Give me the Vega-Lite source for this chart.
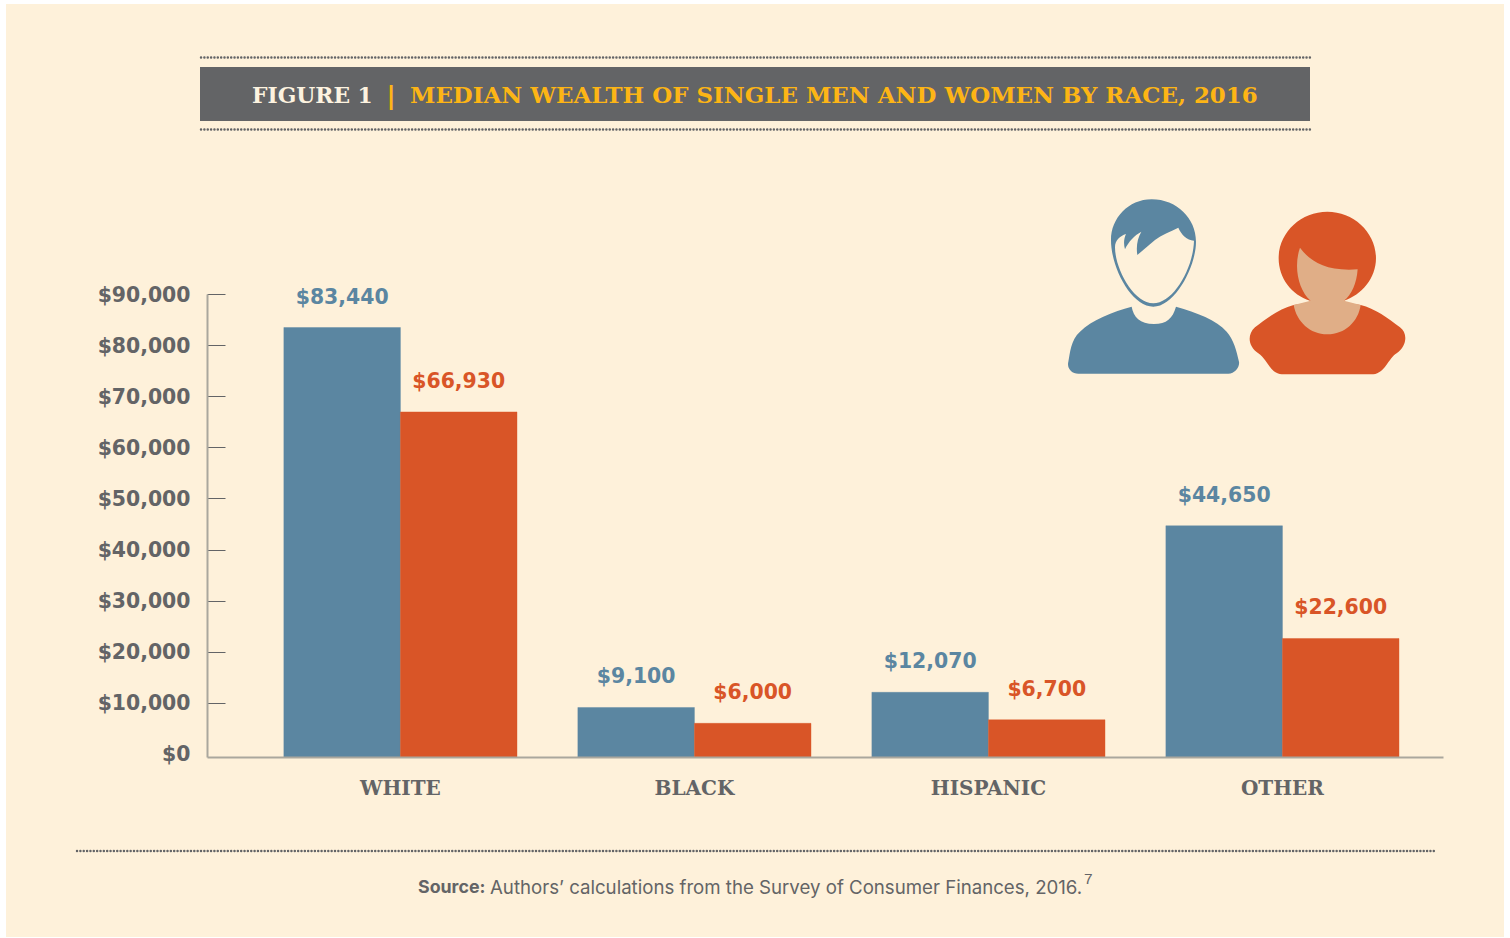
{
"$schema":"https://vega.github.io/schema/vega-lite/v6.json",
"width":1236,"height":463,
"autosize":{"type":"none"},
"padding":{"left":207,"top":294,"right":67,"bottom":181},
"background":"#ffffff",
"config":{"view":{"stroke":null}},
"layer":[
{"data":{"values":[{}]},
 "layer":[
 {"mark":{"type":"rect","fill":"#fef1da"},"encoding":{"x":{"datum":6,"type":"quantitative","scale":{"domain":[207,1443]},"axis":null},"x2":{"datum":1504},"y":{"datum":4,"type":"quantitative","scale":{"domain":[757,294]},"axis":null},"y2":{"datum":937}}},
 {"mark":{"type":"rect","fill":"#636466"},"encoding":{"x":{"datum":200,"type":"quantitative","scale":{"domain":[207,1443]},"axis":null},"x2":{"datum":1310},"y":{"datum":67,"type":"quantitative","scale":{"domain":[757,294]},"axis":null},"y2":{"datum":121}}},
 {"mark":{"type":"rule","stroke":"#636466","strokeWidth":2.4,"strokeDash":[0.1,3.25],"strokeCap":"round"},"encoding":{"x":{"datum":201,"type":"quantitative","scale":{"domain":[207,1443]},"axis":null},"x2":{"datum":1310},"y":{"datum":57.5,"type":"quantitative","scale":{"domain":[757,294]},"axis":null}}},
 {"mark":{"type":"rule","stroke":"#636466","strokeWidth":2.4,"strokeDash":[0.1,3.25],"strokeCap":"round"},"encoding":{"x":{"datum":201,"type":"quantitative","scale":{"domain":[207,1443]},"axis":null},"x2":{"datum":1310},"y":{"datum":129.5,"type":"quantitative","scale":{"domain":[757,294]},"axis":null}}},
 {"mark":{"type":"rule","stroke":"#636466","strokeWidth":2.4,"strokeDash":[0.1,3.25],"strokeCap":"round"},"encoding":{"x":{"datum":77,"type":"quantitative","scale":{"domain":[207,1443]},"axis":null},"x2":{"datum":1436},"y":{"datum":851,"type":"quantitative","scale":{"domain":[757,294]},"axis":null}}},
 {"mark":{"type":"text","text":"FIGURE 1","font":"DejaVu Serif","fontWeight":"bold","fontSize":21.8,"fill":"#fdf3e0","align":"left","baseline":"middle"},"encoding":{"x":{"datum":252,"type":"quantitative","scale":{"domain":[207,1443]},"axis":null},"y":{"datum":96,"type":"quantitative","scale":{"domain":[757,294]},"axis":null}}},
 {"mark":{"type":"text","text":"|","font":"DejaVu Sans","fontWeight":"bold","fontSize":25,"fill":"#fdb515","align":"center","baseline":"middle"},"encoding":{"x":{"datum":391,"type":"quantitative","scale":{"domain":[207,1443]},"axis":null},"y":{"datum":96,"type":"quantitative","scale":{"domain":[757,294]},"axis":null}}},
 {"mark":{"type":"text","text":"MEDIAN WEALTH OF SINGLE MEN AND WOMEN BY RACE, 2016","font":"DejaVu Serif","fontWeight":"bold","fontSize":22.95,"fill":"#fdb515","align":"left","baseline":"middle"},"encoding":{"x":{"datum":410,"type":"quantitative","scale":{"domain":[207,1443]},"axis":null},"y":{"datum":96,"type":"quantitative","scale":{"domain":[757,294]},"axis":null}}},
 {"mark":{"type":"text","text":"Source:","font":"Inter","fontWeight":"bold","fontSize":17.8,"fill":"#636466","align":"left","baseline":"middle"},"encoding":{"x":{"datum":418,"type":"quantitative","scale":{"domain":[207,1443]},"axis":null},"y":{"datum":888,"type":"quantitative","scale":{"domain":[757,294]},"axis":null}}},
 {"mark":{"type":"text","text":"Authors’ calculations from the Survey of Consumer Finances, 2016.","font":"Inter","fontSize":18.65,"fill":"#636466","align":"left","baseline":"middle"},"encoding":{"x":{"datum":490,"type":"quantitative","scale":{"domain":[207,1443]},"axis":null},"y":{"datum":888,"type":"quantitative","scale":{"domain":[757,294]},"axis":null}}},
 {"mark":{"type":"text","text":"7","font":"Liberation Sans","fontSize":15.5,"fill":"#636466","align":"left","baseline":"middle"},"encoding":{"x":{"datum":1084,"type":"quantitative","scale":{"domain":[207,1443]},"axis":null},"y":{"datum":879,"type":"quantitative","scale":{"domain":[757,294]},"axis":null}}},
 {"mark":{"type":"point","filled":true,"opacity":1,"size":0.4444,"fill":"#5b86a1","shape":"M245,350 C250,380 270,402 312,402 C350,402 368,385 378,350 C440,368 500,390 530,425 C552,450 560,485 567,515 C570,530 555,551 535,551 L85,551 C65,551 50,535 55,515 C60,490 62,450 90,425 C125,390 190,365 245,350 Z M305,28 C380,28 438,85 438,155 C438,230 375,350 310,350 C245,350 183,235 183,150 C183,85 235,28 305,28 Z M432,152 C410,150 395,135 385,113 C360,125 335,135 315,150 L262,195 C258,170 262,145 274,125 C255,135 235,155 225,178 C220,160 222,145 228,132 C210,138 195,150 195,172 C195,235 250,340 310,340 C370,340 430,235 432,152 Z"},"encoding":{"x":{"datum":1050,"type":"quantitative","scale":{"domain":[207,1443]},"axis":null},"y":{"datum":190,"type":"quantitative","scale":{"domain":[757,294]},"axis":null}}},
 {"mark":{"type":"point","filled":true,"opacity":1,"size":0.4444,"fill":"#d95527","shape":"M731,345 C690,355 650,385 615,412 C590,435 595,470 625,490 C650,505 660,550 695,553 L970,553 C1005,550 1015,505 1040,490 C1070,470 1075,430 1050,412 C1015,385 975,355 932,345 L832,330 Z M832,65 C912,65 978,128 978,205 C978,265 935,315 882,332 L780,332 C725,315 686,265 686,205 C686,128 752,65 832,65 Z"},"encoding":{"x":{"datum":1050,"type":"quantitative","scale":{"domain":[207,1443]},"axis":null},"y":{"datum":190,"type":"quantitative","scale":{"domain":[757,294]},"axis":null}}},
 {"mark":{"type":"point","filled":true,"opacity":1,"size":0.4444,"fill":"#e0ae87","shape":"M750,173 C780,215 830,245 923,238 C920,280 905,315 882,332 L932,345 C925,395 885,433 832,433 C780,433 740,395 731,345 L782,332 C745,300 730,230 750,173 Z"},"encoding":{"x":{"datum":1050,"type":"quantitative","scale":{"domain":[207,1443]},"axis":null},"y":{"datum":190,"type":"quantitative","scale":{"domain":[757,294]},"axis":null}}}
 ]},
{"data":{"values":[
 {"race":"WHITE","group":"Men","wealth":83440},
 {"race":"WHITE","group":"Women","wealth":66930},
 {"race":"BLACK","group":"Men","wealth":9100},
 {"race":"BLACK","group":"Women","wealth":6000},
 {"race":"HISPANIC","group":"Men","wealth":12070},
 {"race":"HISPANIC","group":"Women","wealth":6700},
 {"race":"OTHER","group":"Men","wealth":44650},
 {"race":"OTHER","group":"Women","wealth":22600}
 ]},
 "encoding":{
  "x":{"field":"race","type":"nominal","sort":["WHITE","BLACK","HISPANIC","OTHER"],"title":null,
   "scale":{"paddingInner":0.207,"paddingOuter":0.2055,"align":0.636},
   "axis":{"orient":"bottom","zindex":1,"labelAngle":0,"tickSize":0,"domainColor":"#aaa79d","domainWidth":2,"labelFont":"DejaVu Serif","labelFontWeight":"bold","labelFontSize":20,"labelColor":"#636466","labelPadding":21,"labelBaseline":"top"}},
  "xOffset":{"field":"group","type":"nominal","sort":["Men","Women"],"scale":{"paddingInner":0,"paddingOuter":0}},
  "y":{"field":"wealth","type":"quantitative","title":null,
   "scale":{"domain":[-587,90000],"nice":false,"zero":false},
   "axis":{"orient":"left","zindex":1,"values":[0,10000,20000,30000,40000,50000,60000,70000,80000,90000],"format":"$,.0f","grid":false,"tickSize":-18,"tickColor":{"condition":{"test":"datum.value === 0","value":"transparent"},"value":"#636466"},"tickWidth":1,"domainColor":"#aaa79d","domainWidth":2,"labelFont":"DejaVu Sans","labelFontWeight":"bold","labelFontSize":20.4,"labelColor":"#636466","labelPadding":35,"labelOffset":1}},
  "color":{"field":"group","type":"nominal","scale":{"domain":["Men","Women"],"range":["#5b86a1","#d95527"]},"legend":null},
  "stroke":{"field":"group","type":"nominal","scale":{"domain":["Men","Women"],"range":["#5b86a1","#d95527"]},"legend":null}
 },
 "layer":[
  {"mark":{"type":"bar","strokeWidth":0.4},"encoding":{"y2":{"datum":-587}}},
  {"mark":{"type":"text","font":"DejaVu Sans","fontWeight":"bold","fontSize":20.4,"baseline":"middle","dy":-30,"strokeWidth":0},"encoding":{"text":{"field":"wealth","type":"quantitative","format":"$,.0f"}}}
 ]}
],
"resolve":{"scale":{"x":"independent","y":"independent","xOffset":"independent"}}
}
